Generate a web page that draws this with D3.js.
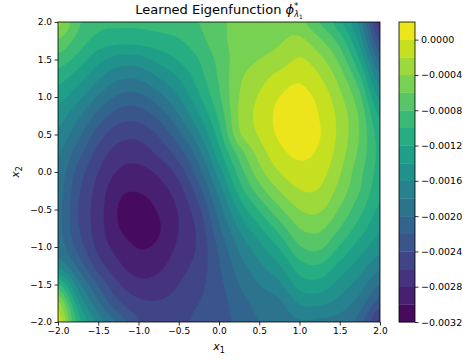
<!DOCTYPE html>
<html>
<head>
<meta charset="utf-8">
<script src="https://cdn.jsdelivr.net/npm/d3@7/dist/d3.min.js"></script>
<style>
  html, body { margin: 0; padding: 0; background: #fff; }
  svg { display: block; font-family: "DejaVu Sans", sans-serif; }
</style>
</head>
<body>
<svg id="chart" width="470" height="360"></svg>
<script>
// sample grid (x1 left -> right, x2 top -> bottom)
const x1Grid = [-2, -1.75, -1.5, -1.25, -1, -0.75, -0.5, -0.25, 0, 0.25, 0.5, 0.75, 1, 1.25, 1.5, 1.75, 2];
const x2Grid = [2, 1.75, 1.5, 1.25, 1, 0.75, 0.5, 0.25, 0, -0.25, -0.5, -0.75, -1, -1.25, -1.5, -1.75, -2];

// eigenfunction values, in units of 1e-4 (one row per x2)
const phiRows = [
  [-3.4, -7.6, -9.4, -9.6, -9.6, -9.4, -9.0, -8.0, -6.4, -5.6, -5.2, -4.8, -5.4, -8.0, -11.4, -16.8, -27.2],
  [-6.2, -8.8, -10.8, -11.4, -11.3, -10.8, -10.2, -8.8, -6.6, -5.4, -4.8, -4.2, -3.5, -5.6, -8.8, -14.8, -24.4],
  [-8.8, -10.8, -13.4, -14.8, -14.8, -13.4, -11.8, -10.0, -7.4, -5.0, -4.0, -3.2, -1.8, -3.4, -6.6, -12.2, -20.8],
  [-11.2, -13.2, -15.8, -17.7, -17.8, -16.1, -14.0, -11.0, -7.8, -4.4, -2.8, -1.2, -0.3, -1.8, -4.8, -9.6, -17.4],
  [-13.2, -15.4, -18.2, -20.4, -20.6, -18.8, -16.0, -12.4, -8.4, -4.0, -1.8, 0.0, 0.6, -0.6, -3.5, -7.6, -14.6],
  [-15.0, -17.6, -20.8, -23.0, -23.2, -21.4, -18.2, -14.2, -9.6, -3.8, -1.4, 0.5, 1.0, -0.1, -2.7, -6.4, -12.4],
  [-16.6, -19.4, -23.0, -25.2, -25.4, -23.8, -20.6, -16.4, -11.0, -4.4, -1.8, 0.3, 0.8, 0.1, -2.6, -6.2, -11.0],
  [-17.8, -21.2, -24.8, -26.9, -27.1, -25.6, -23.0, -18.8, -12.8, -7.2, -3.2, -0.6, 0.4, -0.4, -3.0, -6.6, -10.6],
  [-18.6, -22.8, -26.0, -28.2, -28.6, -27.6, -25.2, -20.8, -15.0, -9.2, -4.8, -2.0, -0.8, -1.2, -3.8, -7.4, -10.8],
  [-19.2, -23.6, -26.8, -29.5, -29.9, -28.9, -26.8, -22.8, -17.2, -11.2, -7.0, -4.0, -2.1, -2.2, -4.8, -8.0, -11.4],
  [-19.4, -24.0, -27.1, -30.1, -30.8, -29.8, -27.8, -24.4, -19.0, -13.6, -9.8, -6.4, -4.0, -3.7, -6.2, -9.4, -12.4],
  [-19.4, -23.8, -27.1, -29.9, -30.9, -30.2, -28.0, -25.4, -20.4, -15.8, -12.4, -9.2, -6.0, -5.6, -8.0, -11.0, -13.6],
  [-18.8, -22.8, -26.6, -28.8, -30.1, -29.6, -27.6, -25.6, -21.6, -17.6, -14.6, -11.8, -8.2, -7.6, -10.2, -13.0, -15.2],
  [-16.4, -20.6, -25.0, -27.6, -29.0, -28.5, -26.8, -25.2, -22.2, -19.0, -16.4, -14.2, -10.8, -10.2, -12.6, -15.0, -17.4],
  [-9.6, -17.2, -22.2, -25.8, -27.4, -27.2, -26.0, -24.6, -22.6, -20.0, -18.0, -16.4, -13.2, -12.8, -14.8, -17.0, -20.0],
  [-3.2, -13.6, -19.6, -23.6, -25.5, -25.8, -25.2, -24.0, -22.8, -21.0, -19.2, -18.4, -15.8, -15.6, -16.8, -19.0, -23.0],
  [-0.4, -10.8, -16.8, -20.6, -23.8, -25.0, -24.6, -23.4, -22.6, -21.6, -20.0, -19.2, -18.2, -18.4, -18.8, -21.0, -26.6]
];

// contour levels (band edges) and tick labels
const levels = [-0.0032, -0.0030, -0.0028, -0.0026, -0.0024, -0.0022, -0.0020, -0.0018, -0.0016,
                -0.0014, -0.0012, -0.0010, -0.0008, -0.0006, -0.0004, -0.0002, 0.0000, 0.0002];
const x1Ticks = [-2, -1.5, -1, -0.5, 0, 0.5, 1, 1.5, 2];
const x2Ticks = [-2, -1.5, -1, -0.5, 0, 0.5, 1, 1.5, 2];
const cbarTicks = [-0.0032, -0.0028, -0.0024, -0.0020, -0.0016, -0.0012, -0.0008, -0.0004, 0.0000];

const plot = { left: 58, right: 380, top: 22, bottom: 322 };
const cbar = { left: 399, right: 415 };

const svg = d3.select('#chart');

const x = d3.scaleLinear().domain([-2, 2]).range([plot.left, plot.right]);
const y = d3.scaleLinear().domain([-2, 2]).range([plot.bottom, plot.top]);

// smooth (bicubic) resampling of the grid for drawing only, like a curved line through points
const sub = 4;
function catmull(p0, p1, p2, p3, t) {
  return p1 + 0.5 * t * (p2 - p0 + t * (2 * p0 - 5 * p1 + 4 * p2 - p3 + t * (3 * (p1 - p2) + p3 - p0)));
}
function resample(arr) {
  const n = arr.length, out = [];
  for (let k = 0; k <= (n - 1) * sub; k++) {
    let i = Math.min(Math.floor(k / sub), n - 2);
    const t = k / sub - i;
    const g = j => arr[Math.max(0, Math.min(n - 1, j))];
    out.push(catmull(g(i - 1), g(i), g(i + 1), g(i + 2), t));
  }
  return out;
}
const rowsFine = phiRows.map(resample);
const nxF = rowsFine[0].length;
const colsFine = d3.range(nxF).map(c => resample(rowsFine.map(r => r[c])));
const nyF = colsFine[0].length;
const values = [];
for (let r = 0; r < nyF; r++) for (let c = 0; c < nxF; c++) values.push(colsFine[c][r] * 1e-4);

// d3.contours puts sample i at grid coordinate i + 0.5
const gx = d3.scaleLinear().domain([0.5, nxF - 0.5]).range([x1Grid[0], x1Grid[x1Grid.length - 1]]);
const gy = d3.scaleLinear().domain([0.5, nyF - 0.5]).range([x2Grid[0], x2Grid[x2Grid.length - 1]]);

const bandColor = k => d3.interpolateViridis((k + 0.5) / (levels.length - 1));

const contours = d3.contours()
  .size([nxF, nyF])
  .thresholds(levels.slice(0, -1))(values);

const proj = d3.geoTransform({
  point(px, py) { this.stream.point(x(gx(px)), y(gy(py))); }
});
const path = d3.geoPath(proj);

svg.append('clipPath').attr('id', 'plotclip')
  .append('rect')
  .attr('x', plot.left).attr('y', plot.top)
  .attr('width', plot.right - plot.left).attr('height', plot.bottom - plot.top);

svg.append('g')
  .attr('clip-path', 'url(#plotclip)')
  .selectAll('path')
  .data(contours)
  .join('path')
  .attr('d', path)
  .attr('fill', (d, i) => bandColor(i))
  .attr('stroke', (d, i) => bandColor(i))
  .attr('stroke-width', 0.3);

// frame
svg.append('rect')
  .attr('x', plot.left).attr('y', plot.top)
  .attr('width', plot.right - plot.left).attr('height', plot.bottom - plot.top)
  .attr('fill', 'none').attr('stroke', '#000').attr('stroke-width', 0.8);

const fmt1 = d3.format('.1f');
const xAxis = svg.append('g')
  .attr('transform', `translate(0,${plot.bottom})`)
  .call(d3.axisBottom(x).tickValues(x1Ticks).tickFormat(fmt1).tickSize(3.5).tickPadding(2.5));
const yAxis = svg.append('g')
  .attr('transform', `translate(${plot.left},0)`)
  .call(d3.axisLeft(y).tickValues(x2Ticks).tickFormat(fmt1).tickSize(3.5).tickPadding(2.5));

[xAxis, yAxis].forEach(a => {
  a.select('.domain').remove();
  a.selectAll('.tick line').attr('stroke', '#000').attr('stroke-width', 0.8);
  a.selectAll('.tick text')
    .attr('fill', '#000')
    .style('font-size', '9px')
    .style('font-family', '"DejaVu Sans", sans-serif');
});

// colorbar
const cb = d3.scaleLinear().domain([levels[0], levels[levels.length - 1]]).range([plot.bottom, plot.top]);
svg.append('g')
  .selectAll('rect')
  .data(d3.range(levels.length - 1))
  .join('rect')
  .attr('x', cbar.left)
  .attr('width', cbar.right - cbar.left)
  .attr('y', k => cb(levels[k + 1]))
  .attr('height', k => cb(levels[k]) - cb(levels[k + 1]) + 0.3)
  .attr('fill', k => bandColor(k));

svg.append('rect')
  .attr('x', cbar.left).attr('y', plot.top)
  .attr('width', cbar.right - cbar.left).attr('height', plot.bottom - plot.top)
  .attr('fill', 'none').attr('stroke', '#000').attr('stroke-width', 0.8);

const cAxis = svg.append('g')
  .attr('transform', `translate(${cbar.right},0)`)
  .call(d3.axisRight(cb).tickValues(cbarTicks).tickFormat(d3.format('.4f')).tickSize(3.5).tickPadding(2.5));
cAxis.select('.domain').remove();
cAxis.selectAll('.tick line').attr('stroke', '#000').attr('stroke-width', 0.8);
cAxis.selectAll('.tick text')
  .attr('fill', '#000')
  .style('font-size', '9.5px')
  .style('font-family', '"DejaVu Sans", sans-serif');

// title
const title = svg.append('text')
  .attr('x', (plot.left + plot.right) / 2)
  .attr('y', 14)
  .attr('text-anchor', 'middle')
  .style('font-size', '13px')
  .text('Learned Eigenfunction ');
title.append('tspan').style('font-style', 'italic').text('\u03D5');
title.append('tspan').attr('dy', -5).style('font-size', '8px').text('*');
title.append('tspan').attr('dx', -4).attr('dy', 8).style('font-size', '8px').style('font-style', 'italic').text('\u03BB');
title.append('tspan').attr('dy', 2).style('font-size', '6px').text('1');

// axis labels
const xl = svg.append('text')
  .attr('x', (plot.left + plot.right) / 2)
  .attr('y', 350)
  .attr('text-anchor', 'middle')
  .style('font-size', '11px');
xl.append('tspan').style('font-style', 'italic').text('x');
xl.append('tspan').attr('dy', 3).style('font-size', '8px').text('1');

const yl = svg.append('text')
  .attr('transform', `translate(19,${(plot.top + plot.bottom) / 2}) rotate(-90)`)
  .attr('text-anchor', 'middle')
  .style('font-size', '11px');
yl.append('tspan').style('font-style', 'italic').text('x');
yl.append('tspan').attr('dy', 3).style('font-size', '8px').text('2');
</script>
</body>
</html>
